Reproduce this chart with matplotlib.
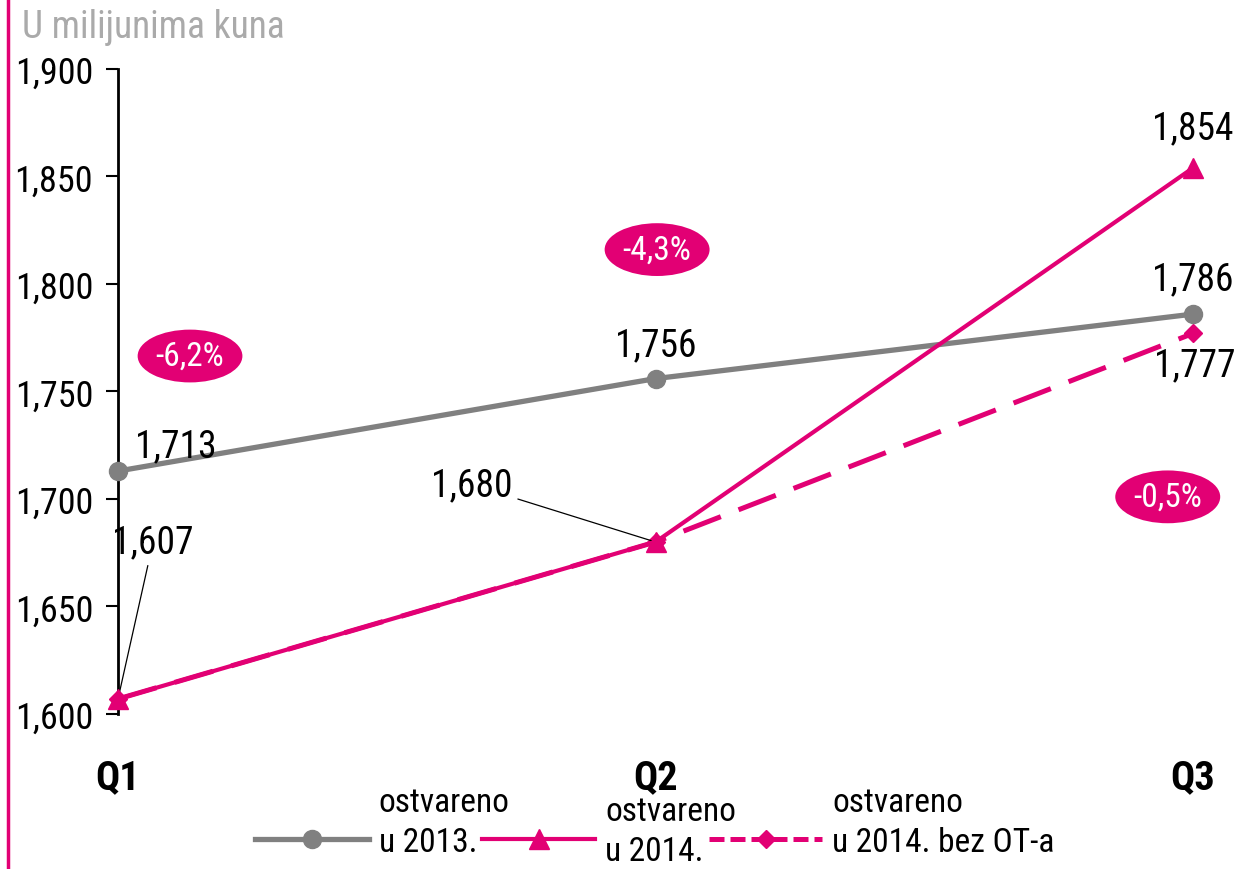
import matplotlib
matplotlib.use("Agg")
import matplotlib.pyplot as plt
from matplotlib.lines import Line2D
from matplotlib.transforms import ScaledTranslation
from matplotlib import font_manager

imena = sorted({f.name for f in font_manager.fontManager.ttflist})
uzak = [n for n in ['Liberation Sans Narrow', 'DejaVu Sans Condensed', 'Roboto Condensed', 'Roboto'] if n in imena]
plt.rcParams['font.family'] = uzak + ['DejaVu Sans']

kvartali = ['Q1', 'Q2', 'Q3']
ostvareno_2013 = [1713, 1756, 1786]
ostvareno_2014 = [1607, 1680, 1854]
bez_ot_2014 = [1607, 1680, 1777]
postoci = ['-6,2%', '-4,3%', '-0,5%']
yticks = [1600, 1650, 1700, 1750, 1800, 1850, 1900]

siva = '#808080'
magenta = '#E20074'

fig = plt.figure(figsize=(12.52, 8.70), dpi=100)
ax = fig.add_axes([118/1252, 1-715/870, (1193-118)/1252, (715-70)/870])
x = range(len(kvartali))

ax.plot(x, ostvareno_2013, color=siva, lw=3.8, marker='o', ms=13, clip_on=False, zorder=3)
ax.plot(x, ostvareno_2014, color=magenta, lw=3, marker='^', ms=14, clip_on=False, zorder=4)
ax.plot(x, bez_ot_2014, color=magenta, lw=3.6, ls=(0, (8, 3.8)), marker='D', ms=9, clip_on=False, zorder=2)

ax.set_xlim(0, 2)
ax.set_ylim(1600, 1900)
ax.set_yticks(yticks)
ax.set_yticklabels([f'{v:,}' for v in yticks], fontsize=26)
ax.set_xticks(list(x))
ax.set_xticklabels(kvartali, fontsize=29, fontweight='bold')
ax.tick_params(axis='x', length=0, pad=32)
ax.tick_params(axis='y', length=9, width=1.5, pad=9)
for s in ['top', 'right', 'bottom']:
    ax.spines[s].set_visible(False)
ax.spines['left'].set_linewidth(2)

fs = 27
ax.annotate(f'{ostvareno_2013[0]:,}', (0, ostvareno_2013[0]), xytext=(12, 11), textcoords='offset points', fontsize=fs)
ax.annotate(f'{ostvareno_2013[1]:,}', (1, ostvareno_2013[1]), xytext=(0, 17), textcoords='offset points', fontsize=fs, ha='center')
ax.annotate(f'{ostvareno_2013[2]:,}', (2, ostvareno_2013[2]), xytext=(0, 18), textcoords='offset points', fontsize=fs, ha='center')
ax.annotate(f'{ostvareno_2014[2]:,}', (2, ostvareno_2014[2]), xytext=(0, 21), textcoords='offset points', fontsize=fs, ha='center')
ax.annotate(f'{bez_ot_2014[2]:,}', (2, bez_ot_2014[2]), xytext=(1, -9), textcoords='offset points', fontsize=fs, ha='center', va='top')
ax.annotate(f'{ostvareno_2014[1]:,}', (1, ostvareno_2014[1]), xytext=(-103, 28), textcoords='offset points',
            fontsize=fs, ha='right', va='bottom',
            arrowprops=dict(arrowstyle='-', color='black', lw=0.9, shrinkA=2, shrinkB=3))
ax.annotate(f'{ostvareno_2014[0]:,}', (0, ostvareno_2014[0]), xytext=(-4, 100), textcoords='offset points',
            fontsize=fs, ha='left', va='bottom',
            arrowprops=dict(arrowstyle='-', color='black', lw=0.9, shrinkA=2, shrinkB=4))

badge = dict(boxstyle='ellipse,pad=0.08', fc=magenta, ec='none')
for xi, yi, t in [(0.134, 1766.5, postoci[0]), (1.003, 1816, postoci[1]), (1.953, 1701, postoci[2])]:
    ax.text(xi, yi, t, color='white', fontsize=24, ha='center', va='center', bbox=badge)

fig.text(22/1252, 1-28/870, 'U milijunima kuna', color='#aaaaaa', fontsize=27, va='center')
fig.add_artist(Line2D([8/1252, 8/1252], [0, 1], color=magenta, lw=2.5))

# legenda
handles = [Line2D([], [], color=siva, lw=3.8, marker='o', ms=13),
           Line2D([], [], color=magenta, lw=3, marker='^', ms=14),
           Line2D([], [], color=magenta, lw=3.6, ls=(0, (3, 1.2)), marker='D', ms=9)]
labels = ['u 2013.', 'u 2014.', 'u 2014. bez OT-a']
leg = fig.legend(handles, labels, loc='center', bbox_to_anchor=(655/1252, 1-843/870), ncol=3,
                 frameon=False, fontsize=24, handlelength=3.4, columnspacing=0.15, handletextpad=0.3)
fig.canvas.draw()
r = fig.canvas.get_renderer()
inv = fig.transFigure.inverted()
for i, t in enumerate(leg.get_texts()):
    bb = t.get_window_extent(r)
    x0, y0 = inv.transform((bb.x0, bb.y1))
    dy = -9/870 if i == 1 else 0
    if i == 1:
        t.set_transform(t.get_transform() + ScaledTranslation(0, -0.09, fig.dpi_scale_trans))
    fig.text(x0, y0 + 8/870 + dy, 'ostvareno', fontsize=24, va='bottom', ha='left')

fig.savefig('out.png', dpi=100)
